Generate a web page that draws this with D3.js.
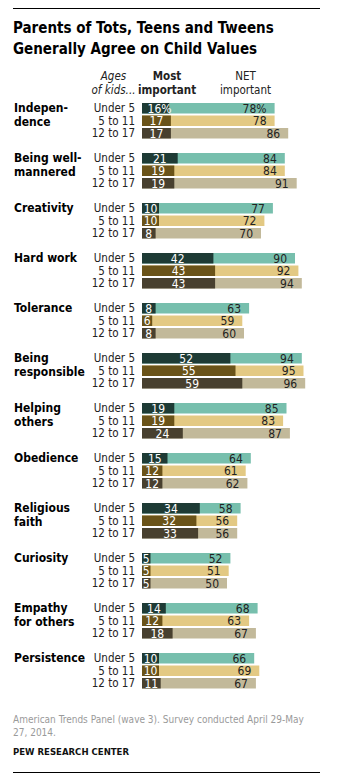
<html>
<head>
<meta charset="utf-8">
<title>Child values by age of kids</title>
<style>
body {
  margin: 0;
  background: #fff;
}
svg text {
  font-family: "Liberation Sans Narrow", "DejaVu Sans Condensed", "Liberation Sans", Arial, sans-serif;
}
.title {
  font-size: 15px;
  font-weight: bold;
  fill: #000;
}
.head {
  font-size: 11.5px;
  fill: #222;
}
.cat {
  font-size: 12px;
  font-weight: bold;
  fill: #000;
}
.age {
  font-size: 11.5px;
  fill: #222;
}
.val {
  font-size: 12px;
}
.note {
  font-size: 10px;
  fill: #9a9a9a;
}
.source {
  font-size: 9.5px;
  font-weight: bold;
  fill: #111;
}
</style>
</head>
<body>
<svg id='plot' width='344' height='780'></svg>

<script src='https://cdn.jsdelivr.net/npm/d3@7/dist/d3.min.js'></script>
<script>
// Data
const categories = ['Independence', 'Being well-mannered', 'Creativity', 'Hard work',
  'Tolerance', 'Being responsible', 'Helping others', 'Obedience',
  'Religious faith', 'Curiosity', 'Empathy for others', 'Persistence'];
const catLines = [['Indepen-', 'dence'], ['Being well-', 'mannered'], ['Creativity'], ['Hard work'],
  ['Tolerance'], ['Being', 'responsible'], ['Helping', 'others'], ['Obedience'],
  ['Religious', 'faith'], ['Curiosity'], ['Empathy', 'for others'], ['Persistence']];
const ages = ['Under 5', '5 to 11', '12 to 17'];

// "Most important" per age group (Under 5, 5 to 11, 12 to 17)
const mostImportant = [
  [16, 17, 17], [21, 19, 19], [10, 10, 8], [42, 43, 43],
  [8, 6, 8], [52, 55, 59], [19, 19, 24], [15, 12, 12],
  [34, 32, 33], [5, 5, 5], [14, 12, 18], [10, 10, 11]
];
// "NET important"
const netImportant = [
  [78, 78, 86], [84, 84, 91], [77, 72, 70], [90, 92, 94],
  [63, 59, 60], [94, 95, 96], [85, 83, 87], [64, 61, 62],
  [58, 56, 56], [52, 51, 50], [68, 63, 67], [66, 69, 67]
];

const darkColors = ['#1e3b35', '#6a5319', '#48402f'];
const lightColors = ['#77bfad', '#e3c983', '#c2b99a'];

const svg = d3.select('#plot');

const x = d3.scaleLinear().domain([0, 100]).range([142, 312]);
const yGroup = d3.scalePoint().domain(categories).range([103, 103 + 50 * 11]);
const yRow = d3.scaleBand().domain(ages).range([0, 35.5]).paddingInner(0.16);

// rules
svg.append('line').attr('x1', 13).attr('x2', 320).attr('y1', 8.5).attr('y2', 8.5)
  .attr('stroke', '#000').attr('stroke-width', 1);
svg.append('line').attr('x1', 13).attr('x2', 320).attr('y1', 772.5).attr('y2', 772.5)
  .attr('stroke', '#000').attr('stroke-width', 1);

// title
svg.append('text').attr('class', 'title').attr('x', 13).attr('y', 33)
  .text('Parents of Tots, Teens and Tweens');
svg.append('text').attr('class', 'title').attr('x', 13).attr('y', 54)
  .text('Generally Agree on Child Values');

// column heads
const heads = [
  {x: 113.5, lines: ['Ages', 'of kids...'], style: 'italic', weight: 'normal'},
  {x: 167, lines: ['Most', 'important'], style: 'normal', weight: 'bold'},
  {x: 245.5, lines: ['NET', 'important'], style: 'normal', weight: 'normal'}
];
heads.forEach(h => {
  h.lines.forEach((l, i) => {
    svg.append('text').attr('class', 'head')
      .attr('x', h.x).attr('y', 80 + i * 13.5)
      .attr('text-anchor', 'middle')
      .style('font-style', h.style)
      .style('font-weight', h.weight)
      .text(l);
  });
});

const groups = svg.selectAll('g.group')
  .data(categories)
  .enter().append('g')
  .attr('class', 'group')
  .attr('transform', d => `translate(0, ${yGroup(d)})`);

// category labels
groups.each(function(d, gi) {
  const g = d3.select(this);
  catLines[gi].forEach((l, i) => {
    g.append('text').attr('class', 'cat')
      .attr('x', 14).attr('y', 9 + i * 14)
      .text(l);
  });
});

groups.each(function(d, gi) {
  const g = d3.select(this);
  ages.forEach((age, ai) => {
    const yy = yRow(age);
    const bh = yRow.bandwidth();
    const most = mostImportant[gi][ai];
    const net = netImportant[gi][ai];
    const pct = (gi === 0 && ai === 0) ? '%' : '';

    g.append('text').attr('class', 'age')
      .attr('x', 135).attr('y', yy + 9.3)
      .attr('text-anchor', 'end')
      .text(age);

    g.append('rect')
      .attr('x', x(0)).attr('y', yy)
      .attr('width', x(net) - x(0)).attr('height', bh)
      .attr('fill', lightColors[ai]);
    g.append('rect')
      .attr('x', x(0)).attr('y', yy)
      .attr('width', x(most) - x(0)).attr('height', bh)
      .attr('fill', darkColors[ai]);

    g.append('text').attr('class', 'val')
      .attr('x', (x(0) + x(most)) / 2 + (pct ? 4 : 0)).attr('y', yy + 9.5)
      .attr('text-anchor', 'middle')
      .attr('fill', '#fff')
      .text(most + pct);
    g.append('text').attr('class', 'val')
      .attr('x', x(net) - 8).attr('y', yy + 9.5)
      .attr('text-anchor', 'end')
      .attr('fill', '#222')
      .text(net + pct);
  });
});

// footer
svg.append('text').attr('class', 'note').attr('x', 13).attr('y', 723)
  .text('American Trends Panel (wave 3). Survey conducted April 29-May');
svg.append('text').attr('class', 'note').attr('x', 13).attr('y', 736)
  .text('27, 2014.');
svg.append('text').attr('class', 'source').attr('x', 13).attr('y', 755)
  .text('PEW RESEARCH CENTER');
</script>
</body>
</html>
